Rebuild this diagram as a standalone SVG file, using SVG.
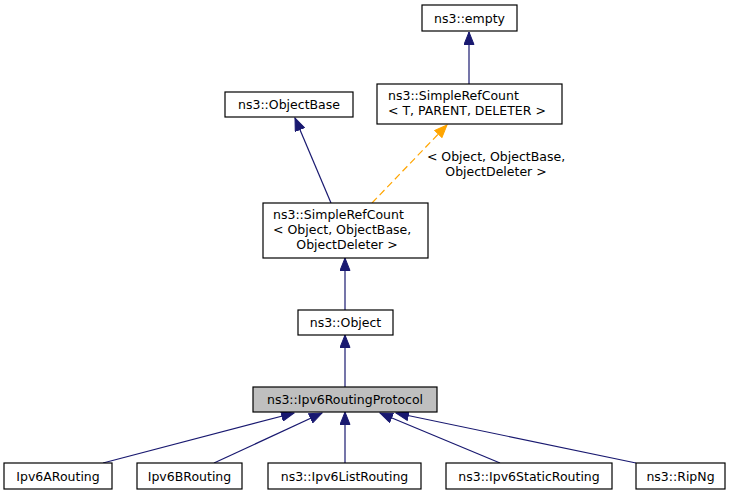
<svg xmlns="http://www.w3.org/2000/svg" width="733" height="496" viewBox="0 0 733 496">
<style>
.n rect{fill:#fff;stroke:#000;stroke-width:1.2}
.n text{font-family:"DejaVu Sans",sans-serif;font-size:12.5px;fill:#000}
.e{fill:none;stroke:#191970;stroke-width:1.2}
.d{fill:none;stroke:#ffa500;stroke-width:1.2;stroke-dasharray:7,4}
.lbl{font-family:"DejaVu Sans",sans-serif;font-size:12.5px;fill:#000}
</style>
<defs>
<marker id="ab" markerUnits="userSpaceOnUse" viewBox="0 0 14 11" refX="13" refY="5.5" markerWidth="14" markerHeight="11" orient="auto">
<path d="M0.5,0.5 L13,5.5 L0.5,10.5 Z" fill="#191970" stroke="#191970"/>
</marker>
<marker id="ao" markerUnits="userSpaceOnUse" viewBox="0 0 14 11" refX="13" refY="5.5" markerWidth="14" markerHeight="11" orient="auto">
<path d="M0.5,0.5 L13,5.5 L0.5,10.5 Z" fill="#ffa500" stroke="#ffa500"/>
</marker>
</defs>
<rect width="733" height="496" fill="#fff"/>
<g id="edges">
<path class="e" d="M469,84 L469,32" marker-end="url(#ab)"/>
<path class="e" d="M331,203 L295,118" marker-end="url(#ab)"/>
<path class="d" d="M372,203 L447,125" marker-end="url(#ao)"/>
<text class="lbl" x="496" y="161" text-anchor="middle">&lt; Object, ObjectBase,</text>
<text class="lbl" x="496" y="175.5" text-anchor="middle">ObjectDeleter &gt;</text>
<path class="e" d="M345,310 L345,258" marker-end="url(#ab)"/>
<path class="e" d="M345,387 L345,335" marker-end="url(#ab)"/>
<path class="e" d="M103,463 L294,413" marker-end="url(#ab)"/>
<path class="e" d="M214,463 L322,413" marker-end="url(#ab)"/>
<path class="e" d="M345,463 L345,412" marker-end="url(#ab)"/>
<path class="e" d="M500,463 L380,413" marker-end="url(#ab)"/>
<path class="e" d="M636,463 L396,413" marker-end="url(#ab)"/>
</g>
<g id="empty" class="n"><rect x="422" y="5" width="95" height="26"/><text x="469.5" y="22.5" text-anchor="middle">ns3::empty</text></g>
<g id="srcT" class="n"><rect x="377" y="84" width="185" height="40"/><text x="388" y="100">ns3::SimpleRefCount</text><text x="388" y="115">&lt; T, PARENT, DELETER &gt;</text></g>
<g id="objectbase" class="n"><rect x="225" y="92" width="128" height="25"/><text x="289" y="109" text-anchor="middle">ns3::ObjectBase</text></g>
<g id="srcObj" class="n"><rect x="263" y="203" width="165" height="55"/><text x="273" y="219">ns3::SimpleRefCount</text><text x="273" y="234">&lt; Object, ObjectBase,</text><text x="347" y="249" text-anchor="middle">ObjectDeleter &gt;</text></g>
<g id="object" class="n"><rect x="298" y="310" width="95" height="25"/><text x="345.5" y="327" text-anchor="middle">ns3::Object</text></g>
<g id="ipv6rp" class="n"><rect x="253" y="387" width="184" height="25" style="fill:#bfbfbf"/><text x="345" y="404" text-anchor="middle">ns3::Ipv6RoutingProtocol</text></g>
<g id="ipv6a" class="n"><rect x="4" y="463" width="108" height="26"/><text x="58" y="480.5" text-anchor="middle">Ipv6ARouting</text></g>
<g id="ipv6b" class="n"><rect x="137" y="463" width="105" height="26"/><text x="189.5" y="480.5" text-anchor="middle">Ipv6BRouting</text></g>
<g id="ipv6list" class="n"><rect x="268" y="463" width="153" height="26"/><text x="344.5" y="480.5" text-anchor="middle">ns3::Ipv6ListRouting</text></g>
<g id="ipv6static" class="n"><rect x="446" y="463" width="166" height="26"/><text x="529" y="480.5" text-anchor="middle">ns3::Ipv6StaticRouting</text></g>
<g id="ripng" class="n"><rect x="636" y="463" width="89" height="26"/><text x="680.5" y="480.5" text-anchor="middle">ns3::RipNg</text></g>
</svg>
